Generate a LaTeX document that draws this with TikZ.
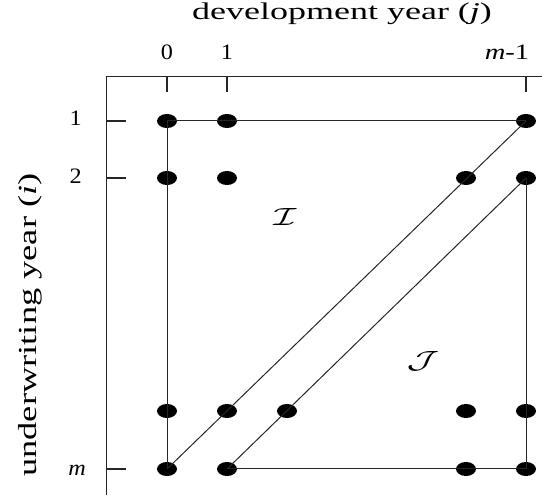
\documentclass[tikz,border=0pt]{standalone}
\usepackage{fontspec}
\setmainfont{Liberation Serif}
\usetikzlibrary{shapes.geometric}
\newcommand{\wide}[2][1.5]{\scalebox{#1}[1]{#2}}

\begin{document}
\begin{tikzpicture}[x=1pt,y=-1pt,
  dot/.style={ellipse,fill=black,minimum width=20pt,minimum height=14pt,inner sep=0pt},
  axis/.style={line width=1.1pt,black!85},
  grid/.style={line width=1pt,black!85},
  lbl/.style={font=\fontsize{22}{26}\selectfont,inner sep=0pt},
  big/.style={font=\fontsize{26}{30}\selectfont,inner sep=0pt}]
\useasboundingbox (0,0) rectangle (542,497);
% axes
\coordinate (tl) at (106.5,76.5);
\coordinate (tr) at (542,76.5);
\coordinate (bl) at (106.5,495);
\draw[axis] (tr) -- (tl) -- (bl);
\draw[axis,line width=1.6pt] (106.5,121) -- (106.5,469);
\foreach \x in {167,227,526} \draw[axis] (\x,76.5) -- ++(0,15.5);
\foreach \y in {121,178,469} \draw[axis] (106.5,\y) -- ++(19.5,0);
% labels
\node[lbl,anchor=base,font=\fontsize{24}{28}\selectfont] (title) at (342,20) {\wide[1.5]{development year (\textit{j})}};
\node[lbl,anchor=base] (j0) at (167,60) {\wide[1.1]{0}};
\node[lbl,anchor=base] (j1) at (227,60) {\wide[1.1]{1}};
\node[lbl,anchor=base] (jm) at (507,60) {\wide[1.3]{\textit{m}-1}};
\node[lbl,anchor=base east] (i1) at (82,126) {\wide[1.1]{1}};
\node[lbl,anchor=base east] (i2) at (82,184) {\wide[1.1]{2}};
\node[lbl,anchor=base east] (im) at (86,476) {\wide[1.1]{\textit{m}}};
\node[big,rotate=90] (ylab) at (30,325) {\wide[1.4]{underwriting year (\textit{i})}};
\node[big] (setI) at (285,217) {\wide{$\mathcal{I}$}};
\node[big] (setJ) at (423,361) {\wide{$\mathcal{J}$}};
% cells
\node[dot] (a1) at (167,121) {};
\node[dot] (b1) at (227,121) {};
\node[dot] (z1) at (526,121) {};
\node[dot] (a2) at (167,178) {};
\node[dot] (b2) at (227,178) {};
\node[dot] (y2) at (466,178) {};
\node[dot] (z2) at (526,178) {};
\node[dot] (ap) at (167,411) {};
\node[dot] (bp) at (227,411) {};
\node[dot] (cp) at (287,411) {};
\node[dot] (yp) at (466,411) {};
\node[dot] (zp) at (526,411) {};
\node[dot] (aq) at (167,469) {};
\node[dot] (bq) at (227,469) {};
\node[dot] (yq) at (466,469) {};
\node[dot] (zq) at (526,469) {};
% triangles
\draw[grid] (a1.center) -- (z1.center);
\draw[grid] (a1.center) -- (aq.center);
\draw[grid] (aq.center) -- (z1.center);
\draw[grid] (bq.center) -- (z2.center);
\draw[grid] (z2.center) -- (zq.center);
\draw[grid] (bq.center) -- (zq.center);
\end{tikzpicture}
\end{document}
